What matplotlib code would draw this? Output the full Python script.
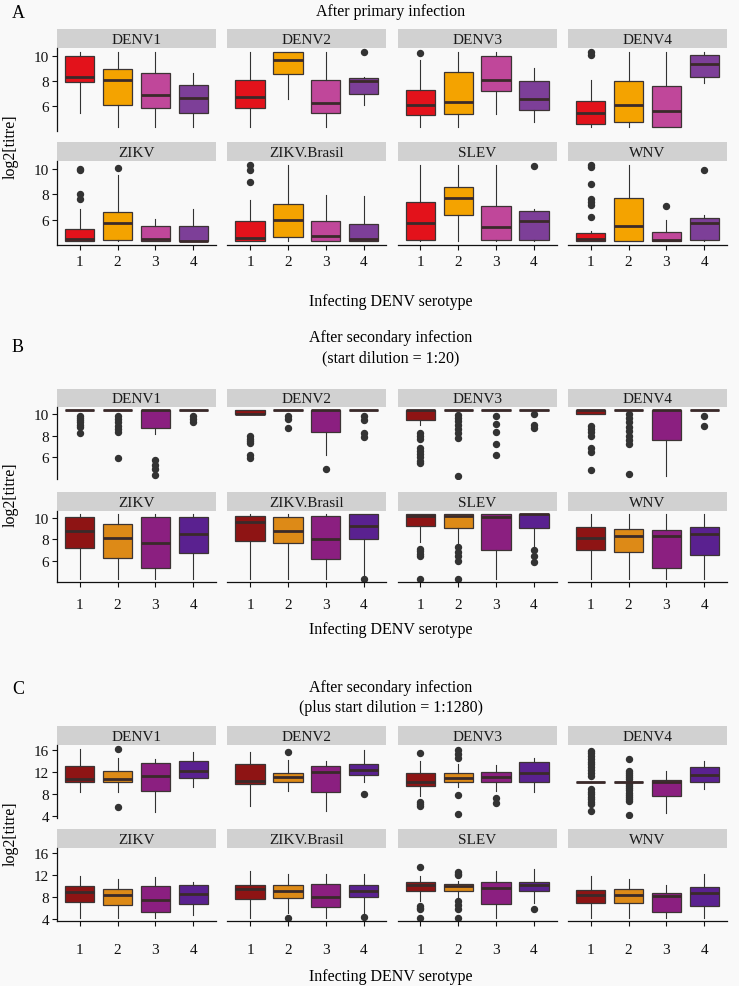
"""Neutralising titres by infecting DENV serotype: three faceted box-plot panels (A, B, C)."""

import matplotlib
matplotlib.use("Agg")
import matplotlib.pyplot as plt

plt.rcParams["font.family"] = ["Liberation Serif", "DejaVu Serif"]

VIRUSES = ["DENV1", "DENV2", "DENV3", "DENV4", "ZIKV", "ZIKV.Brasil", "SLEV", "WNV"]
SEROTYPES = [1, 2, 3, 4]

# ---- panel A: after primary infection (rows = viruses, cols = serotype 1..4) ----
A_LO = [[5.46, 4.30, 4.32, 4.32], [4.32, 6.60, 4.32, 6.11], [4.32, 4.32, 5.38, 4.74],
        [4.32, 4.32, 4.32, 7.84], [4.32, 4.32, 4.32, 4.32], [4.32, 4.32, 4.32, 4.32],
        [4.32, 4.32, 4.32, 4.32], [4.32, 4.32, 4.32, 4.32]]
A_Q1 = [[7.95, 6.06, 5.87, 5.46], [5.87, 8.54, 5.46, 7.00], [5.27, 5.38, 7.21, 5.68],
        [4.57, 4.77, 4.32, 8.35], [4.32, 4.39, 4.32, 4.32], [4.32, 4.65, 4.32, 4.32],
        [4.41, 6.41, 4.41, 4.41], [4.32, 4.32, 4.32, 4.41]]
A_MED = [[8.30, 8.08, 6.87, 6.68], [6.73, 9.64, 6.27, 8.02], [6.06, 6.35, 8.10, 6.60],
         [5.46, 6.06, 5.60, 9.35], [4.47, 5.76, 4.51, 4.35], [4.55, 5.95, 4.73, 4.47],
         [5.76, 7.70, 5.41, 5.89], [4.51, 5.54, 4.39, 5.73]]
A_Q3 = [[10.00, 8.97, 8.67, 7.65], [8.08, 10.32, 8.08, 8.24], [7.27, 8.70, 10.00, 7.97],
        [6.40, 8.02, 7.62, 10.10], [5.28, 6.62, 5.49, 5.49], [5.89, 7.24, 5.89, 5.68],
        [7.43, 8.56, 7.11, 6.70], [5.00, 7.75, 5.08, 6.16]]
A_HI = [[10.32, 10.32, 10.32, 8.67], [10.32, 10.32, 10.32, 8.30], [9.70, 10.32, 10.32, 9.03],
        [8.08, 10.32, 10.32, 10.32], [6.84, 9.50, 6.08, 6.84], [7.57, 10.32, 7.97, 7.89],
        [10.32, 10.32, 10.32, 6.81], [5.10, 10.32, 5.95, 6.35]]
A_FLIERS = [[[], [], [], []],
            [[], [], [], [10.32]],
            [[10.2], [], [], []],
            [[10.32, 10.1], [], [], []],
            [[10.0, 9.9, 8.0, 7.6], [10.1], [], []],
            [[10.32, 9.9, 9.0], [], [], []],
            [[], [], [], [10.2]],
            [[10.32, 10.15, 8.8, 7.6, 7.4, 7.2, 6.2], [], [7.1], [9.9]]]

# ---- panel B: after secondary infection, start dilution 1:20 ----
B_LO = [[10.32, 10.32, 8.10, 10.32], [10.00, 10.32, 6.19, 10.32], [8.95, 10.32, 10.32, 10.32],
        [10.00, 10.32, 4.32, 10.32], [4.32, 4.32, 4.32, 4.32], [4.32, 4.32, 4.32, 4.60],
        [7.75, 7.60, 4.32, 7.30], [4.32, 4.32, 4.32, 4.32]]
B_Q1 = [[10.32, 10.32, 8.70, 10.32], [10.00, 10.32, 8.34, 10.32], [9.47, 10.32, 10.32, 10.32],
        [10.00, 10.32, 7.63, 10.32], [7.20, 6.28, 5.30, 6.74], [7.80, 7.66, 6.16, 7.99],
        [9.22, 9.06, 6.98, 9.06], [6.98, 6.83, 5.30, 6.52]]
B_MED = [[10.32, 10.32, 10.32, 10.32], [10.00, 10.32, 10.32, 10.32], [10.32, 10.32, 10.32, 10.32],
         [10.32, 10.32, 10.32, 10.32], [8.76, 8.12, 7.66, 8.45], [9.58, 8.76, 7.99, 9.27],
         [10.20, 10.20, 10.04, 10.32], [8.12, 8.27, 8.27, 8.45]]
B_Q3 = [[10.32, 10.32, 10.32, 10.32], [10.32, 10.32, 10.32, 10.32], [10.32, 10.32, 10.32, 10.32],
        [10.32, 10.32, 10.32, 10.32], [10.04, 9.43, 10.04, 10.10], [10.20, 10.10, 10.20, 10.32],
        [10.32, 10.32, 10.32, 10.32], [9.12, 8.96, 8.88, 9.12]]
B_HI = [[10.32, 10.32, 10.32, 10.32]] * 8
B_FLIERS = [[[9.8, 9.6, 9.4, 9.2, 9.0, 8.8, 8.25], [9.8, 9.5, 9.2, 8.9, 8.6, 8.3, 5.95],
             [5.8, 5.3, 4.9, 4.4], [9.8, 9.5, 9.2]],
            [[8.0, 7.7, 7.5, 7.3, 6.2, 5.95], [9.8, 9.5, 8.7], [4.95], [9.8, 9.4, 8.2, 7.9]],
            [[8.2, 8.0, 7.7, 6.9, 6.6, 6.3, 6.0, 5.7, 5.5],
             [9.9, 9.6, 9.3, 9.0, 8.6, 8.2, 7.8, 4.3], [9.8, 9.1, 8.3, 7.2, 6.24], [10.0, 9.0, 8.7]],
            [[8.9, 8.6, 8.3, 8.0, 6.9, 6.5, 4.8], [10.0, 9.6, 9.2, 8.8, 8.4, 8.0, 7.6, 7.2, 4.5],
             [], [9.75, 8.9]],
            [[], [], [], []],
            [[], [], [], [4.32]],
            [[7.1, 6.9, 6.6, 6.4, 4.32], [7.3, 6.8, 6.4, 6.0, 4.32], [], [7.0, 6.4, 5.9]],
            [[], [], [], []]]

# ---- panel C: after secondary infection, plus start dilution 1:1280 ----
C_LO = [[8.48, 8.48, 4.86, 9.38], [5.94, 8.66, 5.04, 10.17], [7.75, 9.27, 8.66, 8.48],
        [10.32, 10.32, 4.63, 8.96], [4.33, 4.32, 4.32, 4.75], [4.32, 5.24, 4.32, 5.24],
        [7.34, 7.94, 4.32, 7.00], [4.32, 4.32, 4.32, 4.32]]
C_Q1 = [[10.17, 10.17, 8.66, 10.95], [9.87, 10.28, 8.37, 11.50], [9.45, 10.17, 10.17, 10.28],
        [10.32, 10.32, 7.64, 10.17], [7.16, 6.56, 5.35, 6.74], [7.64, 7.94, 6.32, 8.00],
        [9.14, 9.14, 6.80, 9.22], [6.92, 6.92, 5.35, 6.43]]
C_MED = [[10.77, 10.77, 11.37, 12.16], [10.36, 11.08, 11.98, 12.45], [10.28, 10.90, 11.08, 11.86],
         [10.32, 10.32, 10.28, 11.50], [8.96, 8.37, 7.52, 8.55], [9.58, 9.14, 8.06, 9.14],
         [10.23, 10.05, 9.76, 10.23], [8.37, 8.37, 8.24, 8.73]]
C_Q3 = [[13.18, 12.27, 13.61, 14.08], [13.48, 11.86, 13.18, 13.48], [11.80, 11.80, 11.98, 13.90],
        [10.32, 10.32, 10.65, 12.88], [10.05, 9.58, 10.05, 10.23], [10.23, 10.20, 10.48, 10.20],
        [10.84, 10.48, 10.84, 10.84], [9.27, 9.58, 8.85, 9.87]]
C_HI = [[16.20, 14.51, 14.39, 15.60], [15.71, 14.26, 14.08, 16.00], [14.08, 13.48, 13.30, 14.51],
        [10.32, 10.32, 12.27, 14.08], [11.86, 11.39, 11.68, 10.77], [12.76, 12.29, 12.29, 12.30],
        [11.86, 11.00, 12.76, 13.20], [11.86, 11.39, 10.23, 12.29]]
C_FLIERS = [[[], [16.2, 5.76], [], []],
            [[], [15.71], [], [8.06]],
            [[15.47, 6.6, 6.2, 5.8], [16.07, 15.29, 14.51, 7.88, 4.44], [7.28, 6.38], []],
            [[15.9, 15.4, 14.9, 14.4, 13.9, 13.4, 12.9, 12.4, 11.9, 11.4,
              8.9, 8.5, 8.1, 7.6, 7.1, 6.6, 6.2, 5.0],
             [14.3, 12.3, 11.9, 11.5, 11.1, 10.7, 9.9, 9.5, 9.1, 8.7, 8.3, 7.9, 7.5, 7.1, 6.8, 4.32],
             [], []],
            [[], [], [], []],
            [[], [4.32], [], [4.4]],
            [[13.4, 6.4, 6.0, 5.8, 4.32], [12.5, 12.2, 12.0, 7.34, 6.56, 5.83, 4.32], [], [5.83]],
            [[], [], [], []]]

COLORS_PRIMARY = ["#E3121B", "#F4A300", "#C0479A", "#7D3F98"]
COLORS_SECONDARY = ["#8E1414", "#DD8A17", "#8B1F80", "#5A2190"]

BG = "#F9F9F9"
INK = "#333333"
W, H = 739, 987
COL_X0 = [57, 227.3, 397.7, 568]
COL_W = 159

fig = plt.figure(figsize=(W / 100, H / 100), dpi=100)
fig.patch.set_facecolor(BG)


def px_axes(x0, y0, x1, y1):
    return fig.add_axes([x0 / W, 1 - y1 / H, (x1 - x0) / W, (y1 - y0) / H])


def draw_panel(lo, q1, med, q3, hi, fliers, colors, ylim, yticks, rows, xpad):
    for v, name in enumerate(VIRUSES):
        r, c = divmod(v, 4)
        strip_top, ax_top, ax_bot = rows[r]
        x0 = COL_X0[c]

        sax = px_axes(x0, strip_top, x0 + COL_W, ax_top)
        sax.set_facecolor("#D1D1D1")
        sax.set_xticks([])
        sax.set_yticks([])
        for s in sax.spines.values():
            s.set_visible(False)
        sax.text(0.5, 0.45, name, ha="center", va="center", fontsize=11,
                 color="#1a1a1a", transform=sax.transAxes)

        ax = px_axes(x0, ax_top, x0 + COL_W, ax_bot)
        ax.set_facecolor("none")
        stats = [dict(whislo=lo[v][k], q1=q1[v][k], med=med[v][k], q3=q3[v][k],
                      whishi=hi[v][k], fliers=fliers[v][k]) for k in range(4)]
        res = ax.bxp(stats, positions=SEROTYPES, widths=0.78, patch_artist=True,
                     showcaps=False,
                     boxprops=dict(edgecolor="#3c3434", linewidth=0.9),
                     medianprops=dict(color="#3a2a2a", linewidth=2.0, solid_capstyle="butt"),
                     whiskerprops=dict(color=INK, linewidth=0.8),
                     flierprops=dict(marker="o", markerfacecolor=INK, markeredgecolor=INK,
                                     markersize=4.3))
        for box, col in zip(res["boxes"], colors):
            box.set_facecolor(col)

        ax.set_xlim(0.4, 4.6)
        ax.set_ylim(*ylim)
        for side in ("top", "right"):
            ax.spines[side].set_visible(False)
        ax.spines["left"].set_visible(c == 0)
        ax.spines["bottom"].set_visible(r == 1)
        for side in ("left", "bottom"):
            ax.spines[side].set_linewidth(0.9)
            ax.spines[side].set_color("#111111")

        ax.set_yticks(yticks)
        if c == 0:
            ax.tick_params(axis="y", length=3.5, width=0.8, labelsize=11, pad=2,
                           colors="#111111")
        else:
            ax.tick_params(axis="y", left=False, labelleft=False)
        ax.set_xticks(SEROTYPES)
        if r == 1:
            ax.tick_params(axis="x", length=3.5, width=0.8, labelsize=11, pad=xpad,
                           colors="#111111")
        else:
            ax.tick_params(axis="x", bottom=False, labelbottom=False)


def fig_text(x, y, s, **kw):
    fig.text(x / W, 1 - y / H, s, **kw)


# panel A
draw_panel(A_LO, A_Q1, A_MED, A_Q3, A_HI, A_FLIERS, COLORS_PRIMARY, (4.02, 10.62),
           [6, 8, 10], [(30, 49, 132), (143, 162, 246)], xpad=4)
fig_text(12, 13, "A", fontsize=13, va="center", ha="left")
fig_text(391, 12, "After primary infection", fontsize=11.5, ha="center", va="center")
fig_text(391, 302, "Infecting DENV serotype", fontsize=11.5, ha="center", va="center")
fig_text(11, 147, "log2[titre]", fontsize=11.5, rotation=90, ha="center", va="center")

# panel B
draw_panel(B_LO, B_Q1, B_MED, B_Q3, B_HI, B_FLIERS, COLORS_SECONDARY, (4.02, 10.62),
           [6, 8, 10], [(390, 408, 480), (493, 512, 583)], xpad=8)
fig_text(12, 347, "B", fontsize=13, va="center", ha="left")
fig_text(391, 338, "After secondary infection", fontsize=11.5, ha="center", va="center")
fig_text(391, 358, "(start dilution = 1:20)", fontsize=11.5, ha="center", va="center")
fig_text(391, 630, "Infecting DENV serotype", fontsize=11.5, ha="center", va="center")
fig_text(11, 495, "log2[titre]", fontsize=11.5, rotation=90, ha="center", va="center")

# panel C
draw_panel(C_LO, C_Q1, C_MED, C_Q3, C_HI, C_FLIERS, COLORS_SECONDARY, (3.72, 16.92),
           [4, 8, 12, 16], [(727, 746, 819), (830, 849, 922)], xpad=12)
fig_text(12, 690, "C", fontsize=13, va="center", ha="left")
fig_text(391, 688, "After secondary infection", fontsize=11.5, ha="center", va="center")
fig_text(391, 708, "(plus start dilution = 1:1280)", fontsize=11.5, ha="center", va="center")
fig_text(391, 977, "Infecting DENV serotype", fontsize=11.5, ha="center", va="center")
fig_text(11, 834, "log2[titre]", fontsize=11.5, rotation=90, ha="center", va="center")

fig.savefig("out.png", dpi=100, facecolor=BG)
